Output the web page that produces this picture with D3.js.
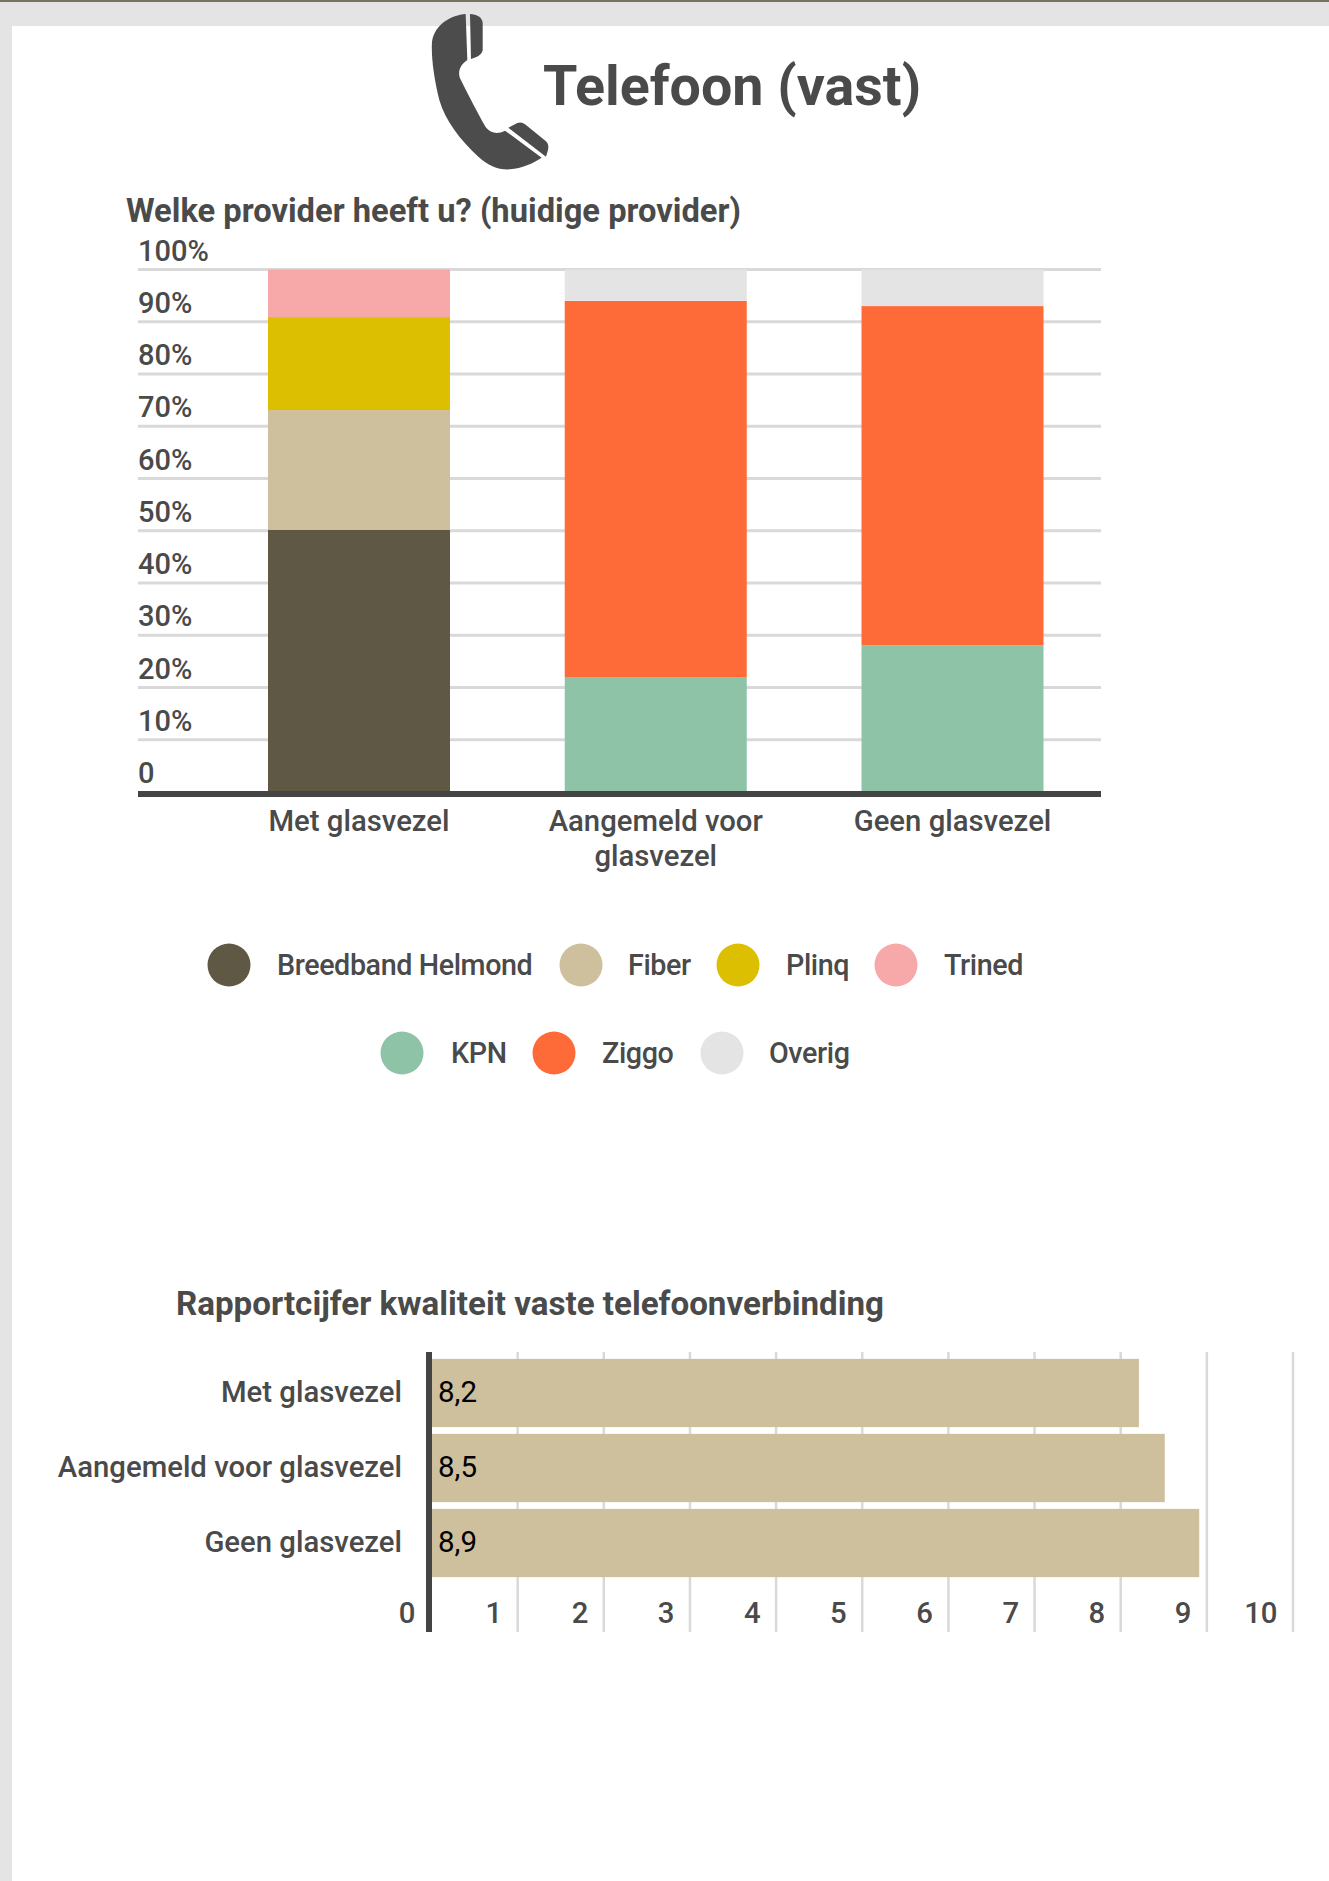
<!DOCTYPE html>
<html><head><meta charset="utf-8">
<script src="https://cdnjs.cloudflare.com/ajax/libs/d3/7.8.5/d3.min.js"></script>
<style>html,body{margin:0;padding:0;background:#fff}svg{display:block}text{font-family:Roboto,sans-serif;fill:#4a4a4a}</style>
</head><body><svg id="c" width="1329" height="1881"></svg>
<script>
const groups = ["Met glasvezel", "Aangemeld voor glasvezel", "Geen glasvezel"];
const groupLines = [["Met glasvezel"], ["Aangemeld voor", "glasvezel"], ["Geen glasvezel"]];
const providers = ["Breedband Helmond", "Fiber", "Plinq", "Trined", "KPN", "Ziggo", "Overig"];
const providerColors = ["#5f5845", "#cebf9d", "#dcbf00", "#f7a8a8", "#8ec3a7", "#ff6a39", "#e4e4e4"];
const breedband = [50.2, 0, 0];
const fiber = [22.9, 0, 0];
const plinq = [17.8, 0, 0];
const trined = [9.1, 0, 0];
const kpn = [0, 22, 28.1];
const ziggo = [0, 72, 64.9];
const overig = [0, 6, 7];
const percentTicks = [0,10,20,30,40,50,60,70,80,90,100];
const scores = [8.2, 8.5, 8.9];
const scoreLabels = ["8,2", "8,5", "8,9"];
const scoreTicks = [0,1,2,3,4,5,6,7,8,9,10];
const legendRows = [[0,1,2,3],[4,5,6]];

const svg = d3.select("#c");
// page chrome
svg.append("rect").attr("width",1329).attr("height",1881).attr("fill","#e4e4e4");
svg.append("rect").attr("x",12).attr("y",26).attr("width",1317).attr("height",1855).attr("fill","#fff");
svg.append("rect").attr("width",1329).attr("height",2).attr("fill","#76725f");

// phone icon (decoration)
const phone = svg.append("g").attr("transform","translate(420,0) scale(0.3333)").attr("fill","#4c4c4c");
phone.append("path").attr("d","M137 42C95 46 45 70 36 125C33 170 42 235 58 300C75 360 120 420 175 470C205 497 235 510 270 508C305 505 340 490 365 473L255 392C235 402 215 402 200 385C190 372 150 295 120 235C113 215 120 195 142 180Z");
phone.append("path").attr("d","M150 42C170 43 188 52 188 70L188 150C186 165 170 172 153 177Z");
phone.append("path").attr("d","M265 383L292 369C302 365 310 368 318 375L378 424C386 432 386 442 384 450L378 470Z");

svg.append("text").attr("x",543).attr("y",105).attr("font-size",55.6).attr("font-weight",700).text("Telefoon (vast)");
svg.append("text").attr("x",126).attr("y",222).attr("font-size",32.7).attr("font-weight",700).text("Welke provider heeft u? (huidige provider)");

// stacked chart
const y = d3.scaleLinear().domain([0,100]).range([792,269.5]);
const x = d3.scalePoint().domain(groups).range([359,952.5]);
const bw = 182;
const gridG = svg.append("g");
gridG.selectAll("line").data(percentTicks.slice(1)).join("line")
  .attr("x1",138).attr("x2",1101).attr("y1",d=>y(d)).attr("y2",d=>y(d))
  .attr("stroke","#d9d9d9").attr("stroke-width",3);
svg.append("g").selectAll("text").data(percentTicks).join("text")
  .attr("x",138).attr("y",d=>y(d)-9).attr("font-size",29).attr("font-weight",500)
  .text(d=>d===0?"0":d+"%");
const table = groups.map((g,i)=>({g,"Breedband Helmond":breedband[i],"Fiber":fiber[i],"Plinq":plinq[i],"Trined":trined[i],"KPN":kpn[i],"Ziggo":ziggo[i],"Overig":overig[i]}));
const stack = d3.stack().keys(providers)(table);
const color = d3.scaleOrdinal(providers,providerColors);
svg.append("g").selectAll("g").data(stack).join("g").attr("fill",s=>color(s.key))
  .selectAll("rect").data(s=>s).join("rect")
  .attr("x",d=>x(d.data.g)-bw/2).attr("width",bw)
  .attr("y",d=>y(d[1])).attr("height",d=>y(d[0])-y(d[1]));
svg.append("rect").attr("x",138).attr("y",791).attr("width",963).attr("height",6).attr("fill","#444");
groups.forEach((g,i)=>{
  groupLines[i].forEach((l,j)=>svg.append("text").attr("x",x(g)).attr("y",831+35*j)
    .attr("text-anchor","middle").attr("font-size",29.3).attr("font-weight",500).text(l));
});

// legend
const legendCx = [[229,581,738,896],[402,554,722]];
const legendTx = [[277,628,786,944],[451,602,769]];
const legendCy = [965,1053];
legendRows.forEach((row,r)=>row.forEach((p,k)=>{
  svg.append("circle").attr("cx",legendCx[r][k]).attr("cy",legendCy[r]).attr("r",21.5).attr("fill",providerColors[p]);
  svg.append("text").attr("x",legendTx[r][k]).attr("y",legendCy[r]+10).attr("font-size",28.7).attr("font-weight",500).attr("letter-spacing",-0.4).text(providers[p]);
}));

// score chart
svg.append("text").attr("x",176).attr("y",1315).attr("font-size",33.15).attr("font-weight",700).text("Rapportcijfer kwaliteit vaste telefoonverbinding");
const sx = d3.scaleLinear().domain([0,10]).range([431.5,1293]);
const sy = d3.scaleBand().domain(groups).range([1355.5,1580.5]).paddingInner(0.09).paddingOuter(0.045);
svg.append("g").selectAll("line").data(scoreTicks.slice(1)).join("line")
  .attr("x1",d=>sx(d)).attr("x2",d=>sx(d)).attr("y1",1352).attr("y2",1632)
  .attr("stroke","#d9d9d9").attr("stroke-width",2.5);
svg.append("g").selectAll("rect").data(groups).join("rect")
  .attr("x",431.5).attr("y",d=>sy(d)).attr("height",sy.bandwidth())
  .attr("width",(d,i)=>sx(scores[i])-sx(0)+1).attr("fill","#cebf9d");
svg.append("rect").attr("x",426).attr("y",1352).attr("width",6).attr("height",280).attr("fill","#444");
svg.append("g").selectAll("text").data(groups).join("text")
  .attr("x",402).attr("y",d=>sy(d)+sy.bandwidth()/2+9).attr("text-anchor","end").attr("font-size",29.3).attr("font-weight",500).text(d=>d);
svg.append("g").selectAll("text").data(groups).join("text")
  .attr("x",438).attr("y",d=>sy(d)+sy.bandwidth()/2+9).attr("font-size",29.5).style("fill","#000").text((d,i)=>scoreLabels[i]);
svg.append("g").selectAll("text").data(scoreTicks).join("text")
  .attr("x",d=>sx(d)-(d===0?16:15.5)).attr("y",1623).attr("text-anchor","end").attr("font-size",29.3).attr("font-weight",500).text(d=>d);
</script></body></html>
